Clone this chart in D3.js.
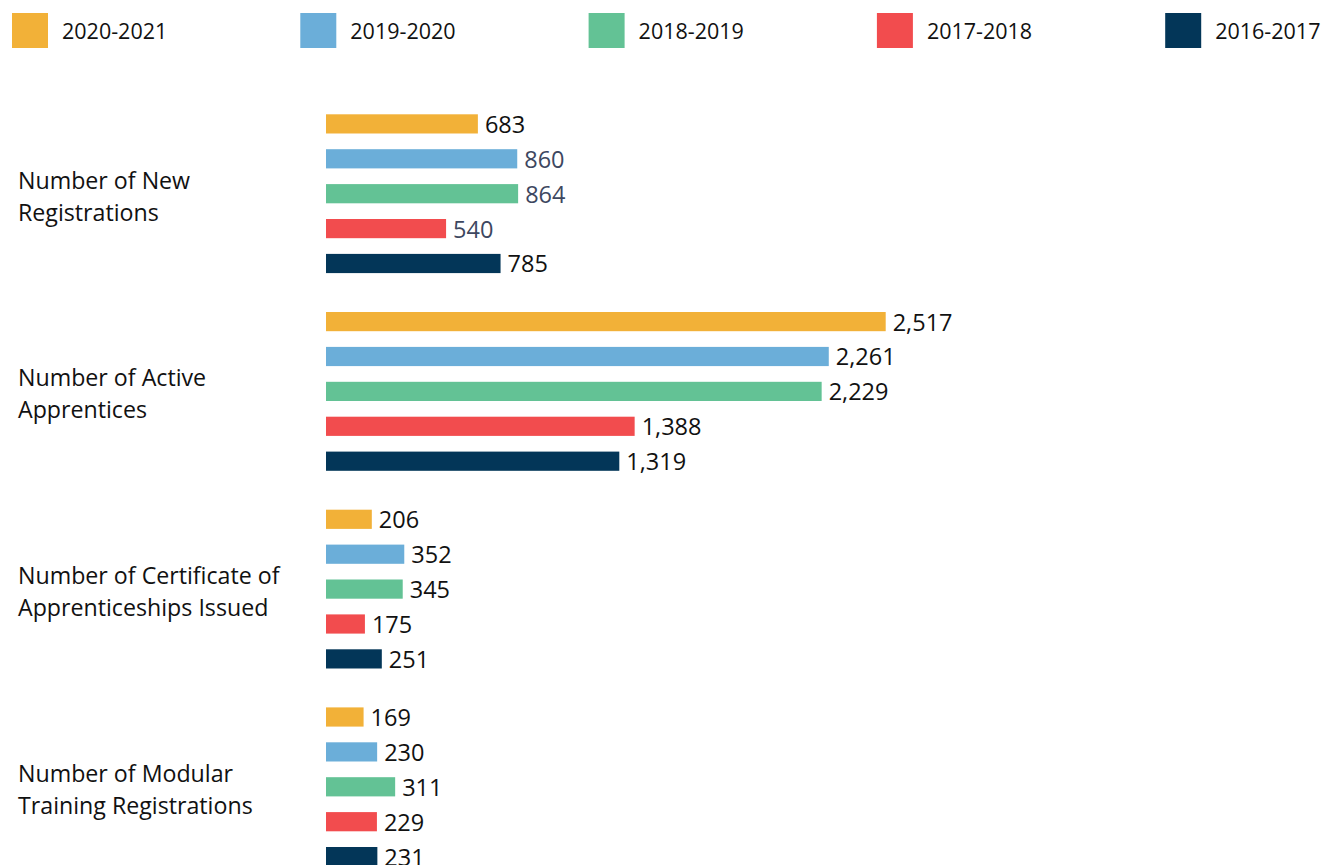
<!DOCTYPE html>
<html>
<head>
<meta charset="utf-8">
<script src="https://cdn.jsdelivr.net/npm/d3@7"></script>
<style>
  html, body { margin: 0; padding: 0; background: #ffffff; }
  svg { display: block; }
  text { font-family: "Open Sans", "Noto Sans", sans-serif; }
</style>
</head>
<body>
<svg id="chart" width="1326" height="865"></svg>
<script>
// Apprenticeship program indicators by fiscal year
const categories = [
  ["Number of New", "Registrations"],
  ["Number of Active", "Apprentices"],
  ["Number of Certificate of", "Apprenticeships Issued"],
  ["Number of Modular", "Training Registrations"]
];
const seriesNames = ["2020-2021", "2019-2020", "2018-2019", "2017-2018", "2016-2017"];
const seriesColors = ["#f2b138", "#6baed9", "#63c295", "#f24c4e", "#033658"];

// values per series, in category order
const v2020_2021 = [683, 2517, 206, 169];
const v2019_2020 = [860, 2261, 352, 230];
const v2018_2019 = [864, 2229, 345, 311];
const v2017_2018 = [540, 1388, 175, 229];
const v2016_2017 = [785, 1319, 251, 231];
const seriesValues = [v2020_2021, v2019_2020, v2018_2019, v2017_2018, v2016_2017];

// labels drawn in a slate tone rather than black
const slateLabels = [[0, 1], [0, 2], [0, 3]];

const svg = d3.select("#chart");
const fmt = d3.format(",");

// Horizontal value scale
const x = d3.scaleLinear().domain([0, 2517]).range([326, 885.7]);

// Group bands and bar bands within each group
const groupStep = 197.7;
const yGroup = d3.scaleBand()
  .domain(d3.range(categories.length))
  .range([114.3, 114.3 + groupStep * categories.length])
  .paddingInner(0).paddingOuter(0);
const yBar = d3.scaleBand()
  .domain(d3.range(seriesNames.length))
  .range([0, 34.9 * (5 - 0.45)])
  .paddingInner(0.45).paddingOuter(0);

// Legend
const legend = svg.append("g");
seriesNames.forEach((name, i) => {
  const lx = 12 + i * 288.3;
  legend.append("rect")
    .attr("x", lx).attr("y", 13)
    .attr("width", 36).attr("height", 35)
    .attr("fill", seriesColors[i]);
  legend.append("text")
    .attr("x", lx + 50).attr("y", 39)
    .attr("font-size", 21.5)
    .attr("fill", "#111")
    .text(name);
});

// Bars
const groups = svg.append("g").selectAll("g")
  .data(categories)
  .join("g")
  .attr("transform", (d, ci) => `translate(0,${yGroup(ci)})`);

groups.each(function (cat, ci) {
  const g = d3.select(this);
  const rows = seriesValues.map((vals, si) => ({ si, value: vals[ci] }));

  g.selectAll("rect")
    .data(rows)
    .join("rect")
    .attr("x", x(0))
    .attr("y", d => yBar(d.si))
    .attr("width", d => x(d.value) - x(0))
    .attr("height", yBar.bandwidth())
    .attr("fill", d => seriesColors[d.si]);

  g.selectAll("text.value")
    .data(rows)
    .join("text")
    .attr("class", "value")
    .attr("x", d => x(d.value) + 7)
    .attr("y", d => yBar(d.si) + yBar.bandwidth() / 2)
    .attr("dy", "0.38em")
    .attr("font-size", 23.5)
    .attr("fill", d => slateLabels.some(([c, s]) => c === ci && s === d.si) ? "#3d4760" : "#111")
    .text(d => fmt(d.value));

  // Category label, two lines, centred on the group
  const groupSpan = yBar(seriesNames.length - 1) + yBar.bandwidth();
  const mid = groupSpan / 2;
  g.append("text")
    .attr("x", 18)
    .attr("y", mid - 16 + 11)
    .attr("font-size", 23.2)
    .attr("fill", "#111")
    .text(cat[0]);
  g.append("text")
    .attr("x", 18)
    .attr("y", mid + 16 + 11)
    .attr("font-size", 23.2)
    .attr("fill", "#111")
    .text(cat[1]);
});
</script>
</body>
</html>
